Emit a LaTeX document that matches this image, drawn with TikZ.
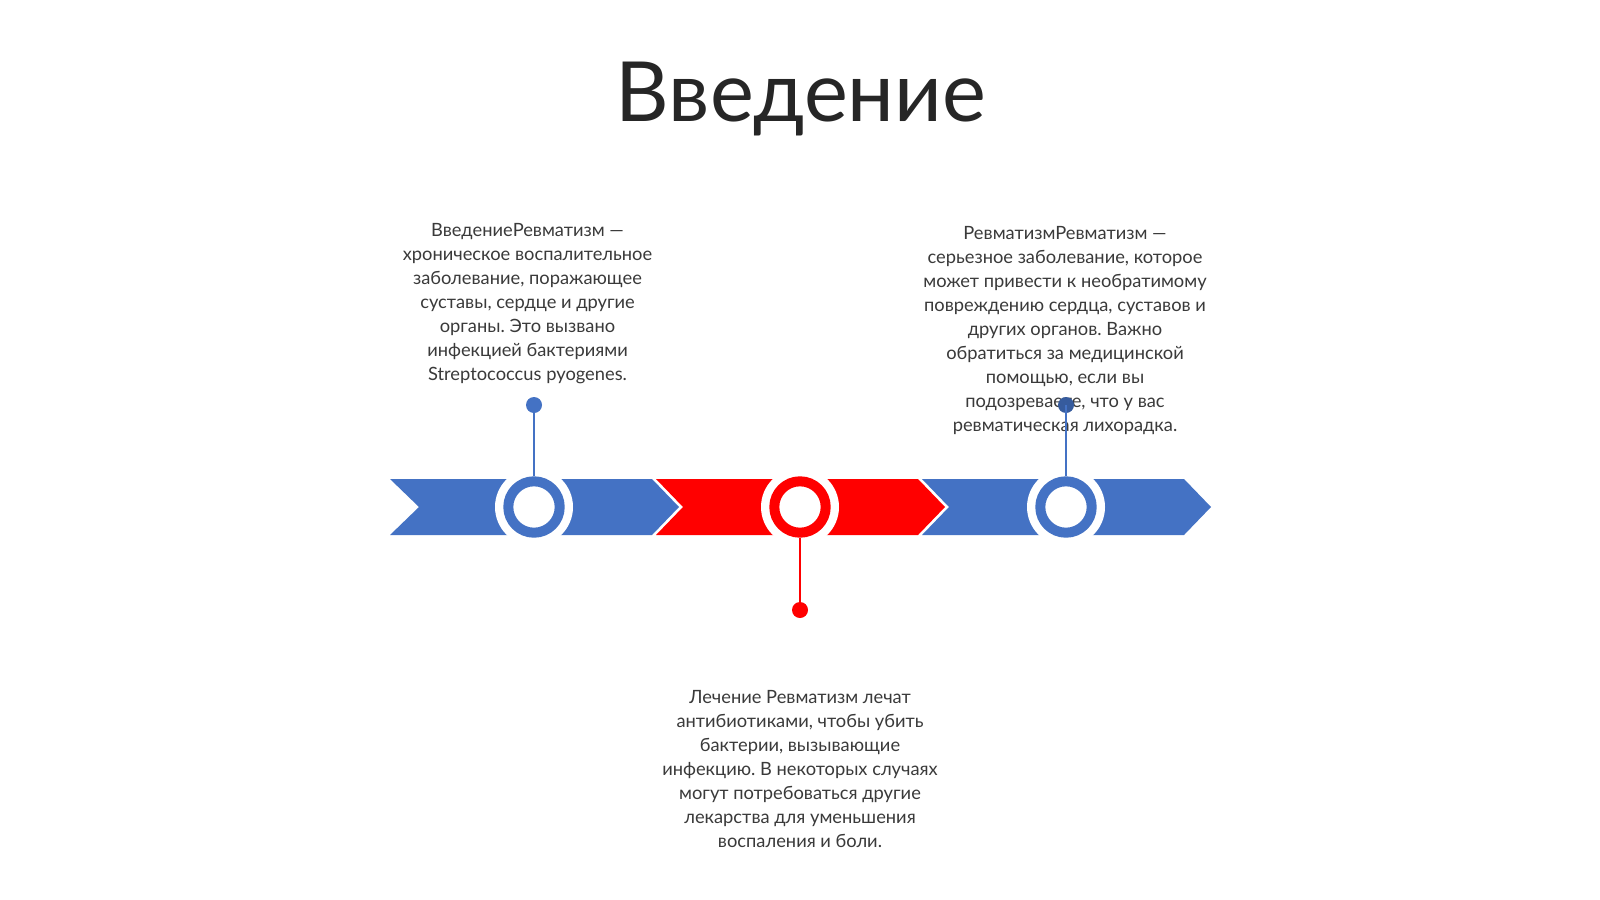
\documentclass[tikz,border=0pt]{standalone}
\usepackage{fontspec}
\setmainfont{Lato}
\frenchspacing
\definecolor{tlblue}{HTML}{4472C4}
\definecolor{tlred}{HTML}{FF0000}
\definecolor{txtgray}{HTML}{3A3A3A}
\definecolor{titlegray}{HTML}{262626}
\begin{document}
\begin{tikzpicture}[x=1pt,y=-1pt,
  ring/.style={circle,draw=#1,line width=10pt,fill=white,minimum size=51.4pt,inner sep=0pt},
  halo/.style={circle,fill=white,minimum size=78pt,inner sep=0pt},
  dot/.style={circle,fill=#1,minimum size=16pt,inner sep=0pt},
  pin/.style={draw=#1,line width=2pt},
  body/.style={text=txtgray,align=center,inner sep=0pt,anchor=base,
    font=\fontsize{18.3}{24.0}\selectfont},
]
\useasboundingbox (0,0) rectangle (1600,899);
\fill[white] (0,0) rectangle (1600,899);
% title
\node[text=titlegray,font=\fontsize{83}{96}\selectfont,anchor=base,inner sep=0pt] (title) at (801,121.5) {Введение};
% chevrons
\fill[tlblue] (390,479) -- (652,479) -- (679,507) -- (652,535) -- (390,535) -- (419,507) -- cycle;
\fill[tlred] (656,479) -- (918,479) -- (945,507) -- (918,535) -- (656,535) -- (683,507) -- cycle;
\fill[tlblue] (922,479) -- (1184,479) -- (1211,507) -- (1184,535) -- (922,535) -- (949,507) -- cycle;
% halos and rings
\node[halo] (h1) at (534,507) {};
\node[halo] (h2) at (800,507) {};
\node[halo] (h3) at (1066,507) {};
\node[ring=tlblue] (c1) at (534,507) {};
\node[ring=tlred] (c2) at (800,507) {};
\node[ring=tlblue] (c3) at (1066,507) {};
% dots and pins
\node[dot=tlblue] (d1) at (534,405) {};
\node[dot=tlred] (d2) at (800,610) {};
\draw[pin=tlblue] (c1.north) -- (d1.center);
\draw[pin=tlred] (c2.south) -- (d2.center);
% texts (anchor base = last line baseline)
\node[body] (t1) at (527.5,380.5) {ВведениеРевматизм —\\хроническое воспалительное\\заболевание, поражающее\\суставы, сердце и другие\\органы. Это вызвано\\инфекцией бактериями\\Streptococcus pyogenes.};
\node[body] (t3) at (1065,431.5) {РевматизмРевматизм —\\серьезное заболевание, которое\\может привести к необратимому\\повреждению сердца, суставов и\\других органов. Важно\\обратиться за медицинской\\помощью, если вы\\подозреваете, что у вас\\ревматическая лихорадка.};
\node[body] (t2) at (800,847) {Лечение Ревматизм лечат\\антибиотиками, чтобы убить\\бактерии, вызывающие\\инфекцию. В некоторых случаях\\могут потребоваться другие\\лекарства для уменьшения\\воспаления и боли.};
% right pin drawn over text
\node[dot=tlblue!80!black] (d3) at (1066,405) {};
\draw[pin=tlblue] (c3.north) -- (d3.center);
\end{tikzpicture}
\end{document}
